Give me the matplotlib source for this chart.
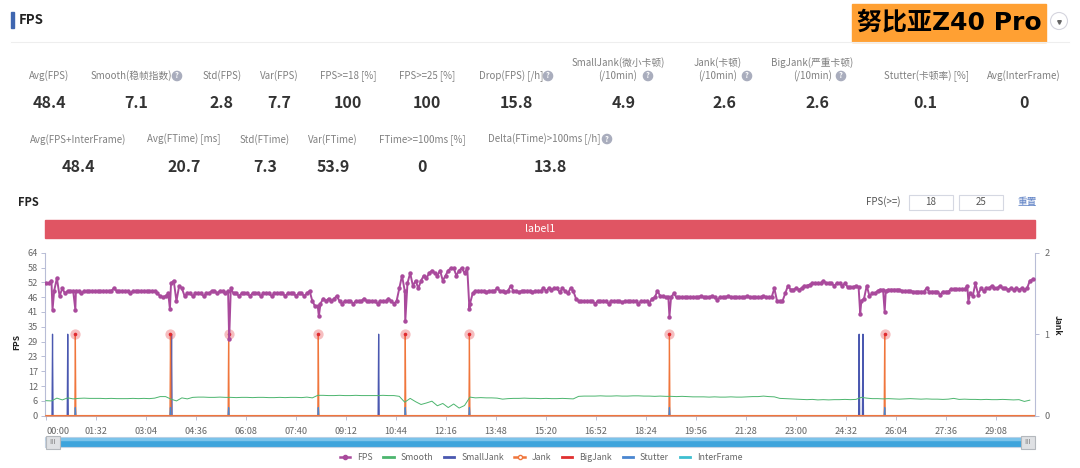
import numpy as np
import matplotlib
matplotlib.use('Agg')
import matplotlib.pyplot as plt
from matplotlib.lines import Line2D
from matplotlib.patches import Rectangle, Circle

plt.rcParams['font.family'] = ['Noto Sans CJK SC', 'DejaVu Sans']

# FPS every 5 s
fps_base = [
    52, 52, 53, 49, 54, 47, 50, 48, 49, 49, 49, 49, 49, 48, 49, 49, 49, 49, 49, 49,
    49, 49, 49, 49, 49, 50, 49, 49, 49, 49, 49, 48, 49, 49, 49, 49, 49, 49, 49, 49,
    49, 48, 47, 46.5, 47, 48, 52, 53, 45, 51, 50, 47, 48, 48, 47, 48, 48, 48, 47, 48,
    48, 49, 49, 48, 49, 49, 48, 49, 50, 48, 48, 47, 48, 48, 48, 47, 48, 48, 48, 47,
    48, 48, 48, 47, 48, 48, 48, 48, 47, 48, 48, 48, 47, 48, 48, 47, 48, 49, 45, 43,
    43, 44, 46, 45, 46, 45, 46, 47, 45, 44, 45, 45, 45, 44, 45, 45, 45, 46, 45, 45,
    45, 45, 44, 45, 45, 45, 46, 45, 44, 45, 50, 55, 49, 52, 56, 51, 53, 50, 53, 55,
    54, 56, 57, 56, 55, 57, 53, 55, 57, 58, 58, 55, 57, 58, 56, 58, 44, 48, 49, 49,
    49, 49, 48.5, 49, 49, 49, 50, 49, 49, 48.5, 49, 51, 49, 49, 48.5, 49, 49, 49, 49, 48.5,
    49, 49, 49, 50, 49, 50, 49.5, 50, 50, 48.5, 50, 49, 48, 50, 49, 46, 45, 45, 45, 45,
    45, 45, 44, 45, 45, 45, 45, 44, 45, 45, 45, 45, 44.5, 45, 45, 45, 45, 45, 44, 45,
    45, 45, 44, 46, 46.5, 49, 47, 47, 46.5, 46.5, 46.5, 48, 46.5, 46.5, 46.5, 46.5, 46.5, 46.5, 46.5, 46.5,
    46.5, 47, 46.5, 46.5, 46.5, 47, 46.5, 45.5, 46.5, 46.5, 46.5, 47, 46.5, 46.5, 46.5, 46.5, 46.5, 46.5, 47, 46.5,
    46.5, 46.5, 46.5, 46.5, 47, 46.5, 46.5, 46.5, 50, 45, 45, 45, 48, 51, 49.5, 49.5, 50, 49.5, 50, 51,
    51, 51.5, 52, 52, 52, 52, 53, 52, 52, 52, 51, 52, 52, 51, 52, 50.5, 50.5, 50.5, 51, 50.5,
    45, 46, 51, 47, 48, 48, 49, 49.5, 49.5, 49, 49.5, 49.5, 49.5, 49.5, 49.5, 49, 49, 49, 49, 48.7,
    48.7, 48.7, 48.7, 48.7, 50, 48.7, 48.7, 48.7, 48.7, 47.5, 48.7, 48.7, 48.7, 49.7, 49.7, 49.7, 49.7, 49.7, 49.7, 51,
    48, 47, 52, 47.5, 50, 49, 50, 50, 51, 50, 50, 51, 50, 50, 49.5, 50, 49.5, 50, 49.5, 50,
    49.5, 50, 53, 53.5,
]
dip_times = [12, 54, 228, 337, 502, 661, 779, 1147, 1498, 1543, 1697]
dip_values = [41.6, 41.6, 41.8, 30, 39, 37, 42, 38.9, 40, 40.8, 44.8]

# Smooth every 10 s
smooth_base = [
    5.9, 5.8, 6.9, 6.2, 7.0, 6.6, 6.8, 6.9, 6.8, 6.8,
    6.8, 6.7, 6.8, 6.7, 6.7, 6.7, 6.8, 6.7, 6.8, 6.7,
    6.9, 7.5, 7.5, 6.5, 5.8, 7.0, 6.6, 7.2, 7.3, 7.3,
    7.2, 7.2, 7.3, 7.2, 7.2, 7.1, 7.2, 7.2, 7.1, 7.2,
    7.2, 7.1, 7.1, 7.2, 7.1, 7.2, 7.2, 7.1, 7.3, 7.0,
    8.0, 8.0, 7.9, 7.9, 8.0, 7.9, 7.9, 8.0, 7.9, 7.9,
    7.9, 7.9, 8.0, 7.9, 7.9, 7.6, 5.3, 6.8, 5.5, 4.4,
    5.0, 5.7, 3.9, 4.8, 3.2, 4.6, 3.0, 4.0, 7.3, 7.0,
    7.1, 7.0, 7.0, 6.9, 6.5, 6.7, 6.8, 6.8, 6.9, 6.8,
    6.8, 6.7, 6.8, 6.7, 6.7, 6.8, 6.7, 6.6, 7.6, 7.7,
    7.7, 7.7, 7.8, 7.7, 7.7, 7.8, 7.7, 7.7, 7.8, 7.8,
    7.7, 7.7, 7.6, 7.7, 7.6, 7.6, 7.5, 7.6, 7.5, 7.4,
    7.4, 7.4, 7.3, 7.4, 7.3, 7.3, 7.4, 7.3, 7.3, 7.4,
    7.5, 7.5, 7.7, 7.5, 7.4, 6.8, 6.7, 6.6, 6.5, 6.4,
    6.3, 6.4, 6.2, 6.3, 6.2, 6.3, 6.3, 6.4, 6.3, 6.4,
    7.2, 6.9, 6.7, 6.7, 6.6, 6.7, 6.6, 6.5, 6.6, 6.7,
    6.6, 6.5, 6.6, 6.5, 6.5, 6.4, 6.5, 6.8, 6.4, 6.5,
    6.4, 6.4, 6.3, 6.4, 6.3, 6.3, 6.4, 6.3, 6.2, 6.3,
    5.6, 6.1,
]

jank_times = [54, 229, 336, 501, 661, 779, 1147, 1543]
small_jank_times = [12, 40, 231, 612, 1496, 1503]
stutter_times = [54, 229, 336, 501, 661, 779, 1147, 1543]
stutter_level = 0.1

left_ticks = [0, 6, 12, 17, 23, 29, 35, 41, 46, 52, 58, 64]
tick_labels = ['00:00', '01:32', '03:04', '04:36', '06:08', '07:40', '09:12', '10:44',
               '12:16', '13:48', '15:20', '16:52', '18:24', '19:56', '21:28', '23:00',
               '24:32', '26:04', '27:36', '29:08']

kpi_top = [
    ('Avg(FPS)', 49, '48.4', 49),
    ('Smooth(稳帧指数)', 131, '7.1', 136),
    ('Std(FPS)', 222, '2.8', 222),
    ('Var(FPS)', 279, '7.7', 279),
    ('FPS>=18 [%]', 348, '100', 348),
    ('FPS>=25 [%]', 427, '100', 427),
    ('Drop(FPS) [/h]', 511, '15.8', 516),
    ('(/10min)', 618, '4.9', 624),
    ('(/10min)', 718, '2.6', 724),
    ('(/10min)', 813, '2.6', 817),
    ('Stutter(卡顿率) [%]', 926, '0.1', 925),
    ('Avg(InterFrame)', 1024, '0', 1024),
]
kpi_bottom = [
    ('Avg(FPS+InterFrame)', 78, '48.4', 78),
    ('Avg(FTime) [ms]', 184, '20.7', 184),
    ('Std(FTime)', 265, '7.3', 265),
    ('Var(FTime)', 333, '53.9', 333),
    ('FTime>=100ms [%]', 422, '0', 422),
    ('Delta(FTime)>100ms [/h]', 544, '13.8', 550),
]
two_line_heads = [('SmallJank(微小卡顿)', 618), ('Jank(卡顿)', 718), ('BigJank(严重卡顿)', 812)]
help_icons = [(177, 76), (548, 76), (648, 76), (747, 76), (841, 76), (607, 139)]

GRAY = '#808080'
DARK = '#333333'
AXIS = '#b8bdd6'
FPS_COLOR = '#a94a9c'
SMOOTH_COLOR = '#4cb56e'
SMALL_COLOR = '#4a58b0'
JANK_COLOR = '#f0763c'
BIG_COLOR = '#e03030'
STUTTER_COLOR = '#4a86d0'
INTER_COLOR = '#3ebfd0'

fig = plt.figure(figsize=(10.8, 4.68), dpi=100)

# page furniture drawn in pixel coordinates
bg = fig.add_axes([0, 0, 1, 1])
bg.set_xlim(0, 1080)
bg.set_ylim(468, 0)
bg.axis('off')

bg.add_patch(Rectangle((11, 12), 3, 16, color='#3f66b0'))
bg.text(19, 20, 'FPS', fontsize=9.5, fontweight='bold', color='#222222', va='center')
bg.plot([11, 1069], [41.5, 41.5], color='#eeeeee', lw=0.8)
bg.add_patch(Rectangle((852, 4), 194, 38, color='#ffa033'))
bg.text(949, 22.5, '努比亚Z40 Pro', fontsize=18, fontweight='bold', color='black', ha='center', va='center',
        family=['DejaVu Sans', 'Noto Sans CJK SC'])
bg.add_patch(Circle((1059, 21), 8.5, fc='white', ec='#d5d5de', lw=0.8))
bg.plot([1059], [21.5], marker='v', ms=2.6, color='#666666')

for label, lx, value, vx in kpi_top:
    bg.text(lx, 76, label, fontsize=7, color=GRAY, ha='center', va='center')
    bg.text(vx, 103.5, value, fontsize=11.5, fontweight='bold', color=DARK, ha='center', va='center')
for label, lx, value, vx in kpi_bottom:
    bg.text(lx, 139.5, label, fontsize=7, color=GRAY, ha='center', va='center')
    bg.text(vx, 167.5, value, fontsize=11.5, fontweight='bold', color=DARK, ha='center', va='center')
for label, lx in two_line_heads:
    bg.text(lx, 63, label, fontsize=7, color=GRAY, ha='center', va='center')
for ix, iy in help_icons:
    bg.add_patch(Circle((ix, iy), 4.6, color='#a9adbd'))
    bg.text(ix, iy, '?', fontsize=5.5, fontweight='bold', color='white', ha='center', va='center')

bg.text(18, 202, 'FPS', fontsize=8, fontweight='bold', color='#222222', va='center')
bg.text(866, 202, 'FPS(>=)', fontsize=7, color='#555555', va='center')
for bx, val in [(909, '18'), (959, '25')]:
    bg.add_patch(Rectangle((bx, 194.5), 43.5, 15.5, fc='white', ec='#d5d8e2', lw=0.8))
    bg.text(bx + 22, 202, val, fontsize=7, color='#555555', ha='center', va='center')
bg.text(1017, 202, '重置', fontsize=7, color='#5b7fc4', va='center')

bg.add_patch(Rectangle((45, 219.5), 990, 18.5, color='#e05563'))
bg.text(540, 228.5, 'label1', fontsize=7.6, color='white', ha='center', va='center')

# zoom slider under the chart
bg.add_patch(Rectangle((45, 437), 989, 10, fc='#3ea4dc', ec='#c6d4e4', lw=0.8))
bg.add_patch(Rectangle((46, 437.5), 987, 2.5, color='#7cc3ea'))
for hx in [45.5, 1020.5]:
    bg.add_patch(Rectangle((hx, 435.5), 14, 13, fc='#dfe1e4', ec='#b4b8bd', lw=0.8, zorder=3))
    bg.text(hx + 7, 442, 'III', fontsize=5, color='#777777', ha='center', va='center', zorder=4)

bg.text(17, 342, 'FPS', fontsize=6.2, fontweight='bold', color='#222222', rotation=90, ha='center', va='center')
bg.text(1057, 325, 'Jank', fontsize=6.2, fontweight='bold', color='#222222', rotation=270, ha='center', va='center')

# main chart
ax = fig.add_axes([45 / 1080, (468 - 415.7) / 468, 989.7 / 1080, 163 / 468])
ax.patch.set_alpha(0)

fps_t = np.concatenate([np.arange(len(fps_base)) * 5, dip_times])
fps_v = np.concatenate([fps_base, dip_values])
order = np.argsort(fps_t)
smooth_t = np.arange(len(smooth_base)) * 10

seconds = np.arange(0, 1819)
jank = np.zeros(len(seconds))
jank[jank_times] = 1
small_jank = np.zeros(len(seconds))
small_jank[small_jank_times] = 1
big_jank = np.zeros(len(seconds))
stutter = np.zeros(len(seconds))
stutter[stutter_times] = stutter_level
inter_frame = np.zeros(len(seconds))

ax2 = ax.twinx()
ax2.set_zorder(1)
ax.set_zorder(2)

ax.plot(fps_t[order], fps_v[order], color=FPS_COLOR, lw=1.4, marker='o', ms=3.2, mew=0, zorder=5)
ax.plot(smooth_t, smooth_base, color=SMOOTH_COLOR, lw=0.7, zorder=3)

ax2.plot(seconds, small_jank, color=SMALL_COLOR, lw=0.9)
ax2.plot(seconds, inter_frame, color=INTER_COLOR, lw=0.9, clip_on=False)
ax2.plot(seconds, big_jank, color=BIG_COLOR, lw=0.9, clip_on=False)
ax2.plot(seconds, jank, color=JANK_COLOR, lw=0.9, clip_on=False)
ax2.plot(seconds, stutter, color=STUTTER_COLOR, lw=0.9, clip_on=False)
# jank sits on top along the zero line
ax.plot(seconds, jank * 0, color=JANK_COLOR, lw=1.1, clip_on=False, zorder=4)

peaks = np.array(jank_times)
ax2.plot(peaks, np.ones(len(peaks)), ls='none', marker='o', ms=7.4, mew=0, color='#e8474c', alpha=0.35)
ax2.plot(peaks, np.ones(len(peaks)), ls='none', marker='o', ms=2.6, mew=0, color='#e02a30')

ax.set_xlim(-1.84, 1819)
ax.set_ylim(0, 64)
ax2.set_ylim(0, 2)

ax.set_yticks(np.arange(len(left_ticks)) * 64 / 11)
ax.set_yticklabels([str(v) for v in left_ticks])
ax.set_xticks(np.arange(len(tick_labels)) * 92)
ax.set_xticklabels(tick_labels)
ax.get_xticklabels()[0].set_ha('left')
ax2.set_yticks([0, 1, 2])

for a in (ax, ax2):
    for side in a.spines:
        a.spines[side].set_color(AXIS)
        a.spines[side].set_linewidth(0.8)
    a.spines['top'].set_visible(False)
    a.tick_params(axis='both', length=3, width=0.7, color=AXIS, labelcolor='#666666', labelsize=6.6, pad=2)
ax.tick_params(axis='x', pad=5)
ax2.tick_params(axis='y', pad=4)
ax.spines['right'].set_visible(False)
ax2.spines['left'].set_visible(False)
ax2.spines['bottom'].set_visible(False)

handles = [
    Line2D([], [], color=FPS_COLOR, lw=1.8, marker='o', ms=3, label='FPS'),
    Line2D([], [], color=SMOOTH_COLOR, lw=2, label='Smooth'),
    Line2D([], [], color=SMALL_COLOR, lw=2, label='SmallJank'),
    Line2D([], [], color=JANK_COLOR, lw=1.8, marker='o', ms=3, mfc='white', label='Jank'),
    Line2D([], [], color=BIG_COLOR, lw=2, label='BigJank'),
    Line2D([], [], color=STUTTER_COLOR, lw=2, label='Stutter'),
    Line2D([], [], color=INTER_COLOR, lw=2, label='InterFrame'),
]
fig.legend(handles=handles, loc='center', bbox_to_anchor=(541 / 1080, 1 - 458 / 468), ncol=7, frameon=False,
           fontsize=6.3, labelcolor='#666666', handlelength=1.2, columnspacing=1.2, handletextpad=0.8)

fig.savefig('out.png', dpi=100)
